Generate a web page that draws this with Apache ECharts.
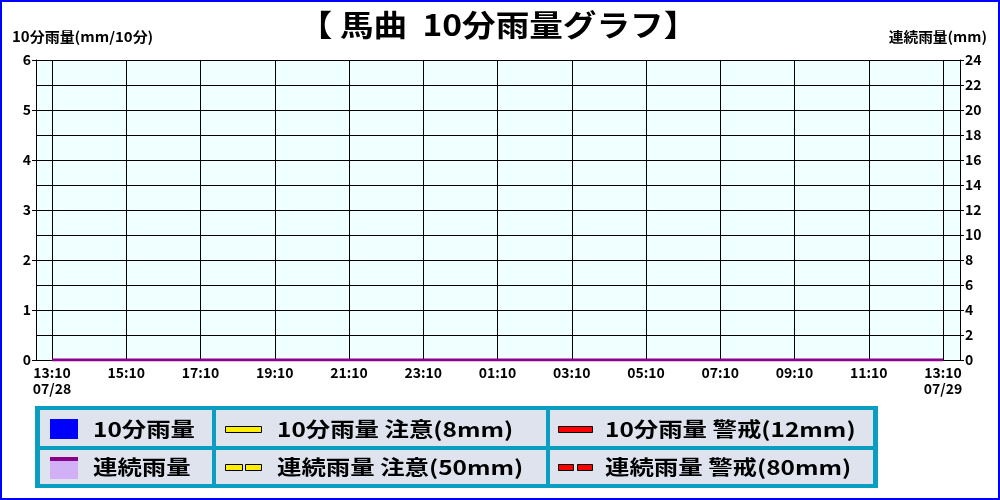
<!DOCTYPE html>
<html>
<head>
<meta charset="utf-8">
<script src="https://cdn.jsdelivr.net/npm/echarts@6/dist/echarts.min.js"></script>
<style>
  html, body { margin: 0; padding: 0; background: #fff; }
  #chart { width: 1000px; height: 500px; }
</style>
</head>
<body>
<div id="chart"></div>
<script>
// 13:10 07/28 -> 13:10 07/29, every 10 minutes
const startHour = 13;
const startMin = 10;
const dateLabels = ["07/28", "07/29"];

// 10分雨量 (mm/10分) - all zero
const rain10 = [
  0, 0, 0, 0, 0, 0, 0, 0, 0, 0, 0, 0,
  0, 0, 0, 0, 0, 0, 0, 0, 0, 0, 0, 0,
  0, 0, 0, 0, 0, 0, 0, 0, 0, 0, 0, 0,
  0, 0, 0, 0, 0, 0, 0, 0, 0, 0, 0, 0,
  0, 0, 0, 0, 0, 0, 0, 0, 0, 0, 0, 0,
  0, 0, 0, 0, 0, 0, 0, 0, 0, 0, 0, 0,
  0, 0, 0, 0, 0, 0, 0, 0, 0, 0, 0, 0,
  0, 0, 0, 0, 0, 0, 0, 0, 0, 0, 0, 0,
  0, 0, 0, 0, 0, 0, 0, 0, 0, 0, 0, 0,
  0, 0, 0, 0, 0, 0, 0, 0, 0, 0, 0, 0,
  0, 0, 0, 0, 0, 0, 0, 0, 0, 0, 0, 0,
  0, 0, 0, 0, 0, 0, 0, 0, 0, 0, 0, 0,
  0
];
// 連続雨量 (mm) - all zero
const rainSum = [
  0, 0, 0, 0, 0, 0, 0, 0, 0, 0, 0, 0,
  0, 0, 0, 0, 0, 0, 0, 0, 0, 0, 0, 0,
  0, 0, 0, 0, 0, 0, 0, 0, 0, 0, 0, 0,
  0, 0, 0, 0, 0, 0, 0, 0, 0, 0, 0, 0,
  0, 0, 0, 0, 0, 0, 0, 0, 0, 0, 0, 0,
  0, 0, 0, 0, 0, 0, 0, 0, 0, 0, 0, 0,
  0, 0, 0, 0, 0, 0, 0, 0, 0, 0, 0, 0,
  0, 0, 0, 0, 0, 0, 0, 0, 0, 0, 0, 0,
  0, 0, 0, 0, 0, 0, 0, 0, 0, 0, 0, 0,
  0, 0, 0, 0, 0, 0, 0, 0, 0, 0, 0, 0,
  0, 0, 0, 0, 0, 0, 0, 0, 0, 0, 0, 0,
  0, 0, 0, 0, 0, 0, 0, 0, 0, 0, 0, 0,
  0
];

const titleText = "【 馬曲  10分雨量グラフ】";
const leftAxisName = "10分雨量(mm/10分)";
const rightAxisName = "連続雨量(mm)";
const legendLabels = [
  "10分雨量", "10分雨量 注意(8mm)", "10分雨量 警戒(12mm)",
  "連続雨量", "連続雨量 注意(50mm)", "連続雨量 警戒(80mm)"
];

// time categories
const times = [];
for (let i = 0; i < rain10.length; i++) {
  const t = (startHour * 60 + startMin + i * 10) % 1440;
  const h = Math.floor(t / 60), m = t % 60;
  times.push((h < 10 ? "0" : "") + h + ":" + (m < 10 ? "0" : "") + m);
}

const FONT = "'Noto Sans CJK JP', sans-serif";
const lbl = { color: "#000", fontSize: 14, fontWeight: "bold", fontFamily: FONT };

const chart = echarts.init(document.getElementById("chart"));

// legend table
const TEAL = "#0b9ec3";
const CELL = "#dee3ee";
const cols = [[40, 172], [216, 330], [550, 323]];
const rows = [[410, 36], [450, 34]];
const legendGfx = [
  { type: "rect", shape: { x: 35, y: 406, width: 843, height: 82 }, style: { fill: TEAL } }
];
rows.forEach(r => {
  cols.forEach(c => {
    legendGfx.push({ type: "rect", shape: { x: c[0], y: r[0], width: c[1], height: r[1] }, style: { fill: CELL } });
  });
});
const legTxt = (x, y, s) => ({
  type: "text", x: x, y: y, scaleX: 1.22,
  style: { text: s, fill: "#000", font: "bold 20px " + FONT, textVerticalAlign: "middle" }
});
// row 1
legendGfx.push({ type: "rect", shape: { x: 50, y: 419, width: 28, height: 20 }, style: { fill: "#0000ff" } });
legendGfx.push(legTxt(93, 429, legendLabels[0]));
legendGfx.push({ type: "rect", shape: { x: 225.5, y: 426.5, width: 36, height: 6 }, style: { fill: "#ffee00", stroke: "#000", lineWidth: 1 } });
legendGfx.push(legTxt(277, 429, legendLabels[1]));
legendGfx.push({ type: "rect", shape: { x: 558.5, y: 426.5, width: 34, height: 6 }, style: { fill: "#ff0000", stroke: "#000", lineWidth: 1 } });
legendGfx.push(legTxt(605, 429, legendLabels[2]));
// row 2
legendGfx.push({ type: "rect", shape: { x: 50, y: 457, width: 28, height: 22 }, style: { fill: "#d2b0f6" } });
legendGfx.push({ type: "rect", shape: { x: 50, y: 457, width: 28, height: 4 }, style: { fill: "#880088" } });
legendGfx.push(legTxt(93, 467, legendLabels[3]));
legendGfx.push({ type: "rect", shape: { x: 225.5, y: 464.5, width: 17, height: 6 }, style: { fill: "#ffee00", stroke: "#000", lineWidth: 1 } });
legendGfx.push({ type: "rect", shape: { x: 245.5, y: 464.5, width: 16, height: 6 }, style: { fill: "#ffee00", stroke: "#000", lineWidth: 1 } });
legendGfx.push(legTxt(277, 467, legendLabels[4]));
legendGfx.push({ type: "rect", shape: { x: 558.5, y: 464.5, width: 15, height: 6 }, style: { fill: "#ff0000", stroke: "#000", lineWidth: 1 } });
legendGfx.push({ type: "rect", shape: { x: 577.5, y: 464.5, width: 15, height: 6 }, style: { fill: "#ff0000", stroke: "#000", lineWidth: 1 } });
legendGfx.push(legTxt(605, 467, legendLabels[5]));

const option = {
  animation: false,
  backgroundColor: "#fff",
  grid: [
    { left: 36, right: 40, top: 60, bottom: 140, show: true, backgroundColor: "#f0ffff", borderWidth: 0 },
    { left: 52, right: 57, top: 60, bottom: 140 }
  ],
  xAxis: [
    {
      gridIndex: 0, type: "value", min: 0, max: 1,
      axisLine: { show: true, lineStyle: { color: "#000", width: 1 } },
      axisTick: { show: false }, axisLabel: { show: false }, splitLine: { show: false }
    },
    {
      gridIndex: 1, type: "category", data: times, boundaryGap: false,
      axisLine: { show: false }, axisTick: { show: false },
      axisLabel: {
        ...lbl, interval: 11, margin: 5, lineHeight: 16,
        formatter: (v, i) => i === 0 ? v + "\n" + dateLabels[0] : (i === times.length - 1 ? v + "\n" + dateLabels[1] : v)
      },
      splitLine: { show: true, interval: 11, lineStyle: { color: "#000", width: 1 } }
    }
  ],
  yAxis: [
    {
      gridIndex: 0, type: "value", position: "left", min: 0, max: 6, interval: 1,
      axisLine: { show: true, lineStyle: { color: "#000" } },
      axisTick: { show: true, length: 4, lineStyle: { color: "#000" } },
      axisLabel: { ...lbl, margin: 5 },
      splitLine: { show: false }
    },
    {
      gridIndex: 0, type: "value", position: "right", min: 0, max: 24, interval: 2,
      axisLine: { show: true, lineStyle: { color: "#000" } },
      axisTick: { show: true, length: 4, lineStyle: { color: "#000" } },
      axisLabel: { ...lbl, margin: 5 },
      splitLine: { show: true, lineStyle: { color: "#000", width: 1 } }
    },
    { gridIndex: 1, type: "value", min: 0, max: 6, show: false },
    { gridIndex: 1, type: "value", min: 0, max: 24, show: false }
  ],
  series: [
    {
      name: "10分雨量", type: "bar", xAxisIndex: 1, yAxisIndex: 2,
      data: rain10, barWidth: 5, itemStyle: { color: "#0000ff" }
    },
    {
      name: "連続雨量", type: "line", xAxisIndex: 1, yAxisIndex: 3,
      data: rainSum, symbol: "none", z: 5,
      lineStyle: { color: "#8e008e", width: 3 },
      areaStyle: { color: "#d2b0f6" }
    }
  ],
  graphic: [
    { type: "rect", shape: { x: 1, y: 1, width: 998, height: 498 }, style: { fill: "none", stroke: "#0000ff", lineWidth: 2 }, z: 100 },
    { type: "text", x: 498, y: 25, scaleX: 1.12, style: { text: titleText, fill: "#000", font: "bold 30px " + FONT, textAlign: "center", textVerticalAlign: "middle" } },
    { type: "text", x: 12, y: 37, scaleX: 1.07, style: { text: leftAxisName, fill: "#000", font: "bold 14px " + FONT, textVerticalAlign: "middle" } },
    { type: "text", x: 987, y: 37, scaleX: 1.05, style: { text: rightAxisName, fill: "#000", font: "bold 14px " + FONT, textAlign: "right", textVerticalAlign: "middle" } },
    ...legendGfx
  ]
};
chart.setOption(option);
</script>
</body>
</html>
